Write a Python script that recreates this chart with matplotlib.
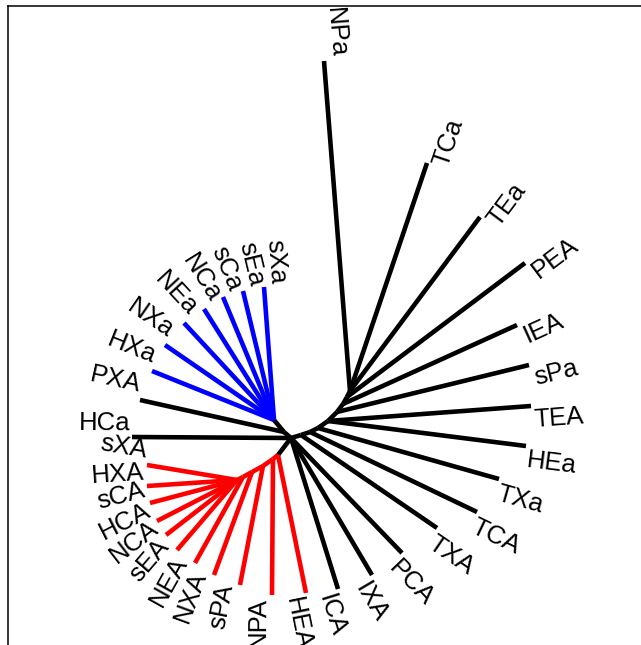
import math
import matplotlib
matplotlib.use("Agg")
import matplotlib.pyplot as plt

# internal nodes of the unrooted tree (x, y in tree units, root at 0,0)
node_names = ["C", "k1", "k2", "k3", "k4", "k5", "k6", "k7", "k8",
              "P", "B", "r0", "r1", "r2", "r3", "r4", "r5"]
node_x = [0, 10, 19, 27, 37, 46, 52, 56, 59, -7, -17, -13, -18, -28, -39, -48, -54]
node_y = [0, 3, 6, 10, 17, 26, 34, 41, 47, 6, 18, -17, -21, -28, -34, -39, -42]
node_parent = [None, "C", "k1", "k2", "k3", "k4", "k5", "k6", "k7",
               "C", "P", "C", "r0", "r1", "r2", "r3", "r4"]
node_group = ["k", "k", "k", "k", "k", "k", "k", "k", "k",
              "k", "k", "k", "r", "r", "r", "r", "r"]

# tips
tip_labels = ["NPa", "TCa", "TEa", "PEA", "IEA", "sPa", "TEA", "HEa", "TXa", "TCA",
              "TXA", "PCA", "IXA", "ICA", "HEA", "NPA", "sPA", "NXA", "NEA", "sEA",
              "NCA", "HCA", "sCA", "HXA", "sXA", "HCa", "PXA", "HXa", "NXa", "NEa",
              "NCa", "sCa", "sEa", "sXa"]
tip_x = [33, 136, 189, 234, 226, 238, 240, 235, 208, 186,
         146, 111, 81, 47, 15, -19, -51, -77, -96, -114,
         -125, -134, -141, -144, -144, -159, -151, -139, -126, -107,
         -87, -68, -48, -27]
tip_y = [377, 275, 221, 175, 113, 73, 32, -8, -41, -74,
         -90, -115, -137, -151, -155, -157, -147, -137, -125, -112,
         -97, -83, -65, -48, -27, 1, 38, 67, 93, 115,
         129, 141, 147, 151]
tip_parent = ["k8", "k8", "k8", "k7", "k6", "k5", "k4", "k4", "k3", "k2",
              "k1", "C", "C", "C", "r0", "r1", "r2", "r3", "r4", "r5",
              "r5", "r5", "r5", "r5", "r5", "C", "P", "B", "B", "B",
              "B", "B", "B", "B"]
tip_group = ["k"] * 14 + ["r"] * 11 + ["k", "k"] + ["b"] * 7

colors = {"k": "black", "r": "#ff0000", "b": "#0000ff"}

W, H = 641, 645
fig = plt.figure(figsize=(W / 100, H / 100), dpi=100)
ax = fig.add_axes([8 / W, -26 / H, 1.0, 665 / H])
ax.set_xlim(-283, 358)
ax.set_ylim(-233, 432)
ax.set_xticks([])
ax.set_yticks([])
for s in ax.spines.values():
    s.set_linewidth(1.1)

pos = {n: (x, y) for n, x, y in zip(node_names, node_x, node_y)}
lw = 3.3

# internal edges
for n, par, g in zip(node_names, node_parent, node_group):
    if par is None:
        continue
    x0, y0 = pos[par]
    x1, y1 = pos[n]
    ax.plot([x0, x1], [y0, y1], color=colors[g], lw=lw, solid_capstyle="butt")

# terminal edges and labels
gap, perp = 1.5, 1.5
for lab, x, y, par, g in zip(tip_labels, tip_x, tip_y, tip_parent, tip_group):
    x0, y0 = pos[par]
    ax.plot([x0, x], [y0, y], color=colors[g], lw=lw, solid_capstyle="butt")
    ang = math.degrees(math.atan2(y - y0, x - x0))
    ux, uy = math.cos(math.radians(ang)), math.sin(math.radians(ang))
    if -90 <= ang <= 90:
        rot, ha, va = ang, "left", "top"
    else:
        rot = ang - 180 if ang > 0 else ang + 180
        ha, va = "right", "bottom"
    dx = gap * ux + perp * uy
    dy = gap * uy - perp * ux
    ax.annotate(lab, (x, y), xytext=(dx, dy), textcoords="offset points",
                rotation=rot, rotation_mode="anchor", ha=ha, va=va,
                fontsize=18.5, family="Liberation Sans", color="black")

fig.savefig("out.png", dpi=100)
